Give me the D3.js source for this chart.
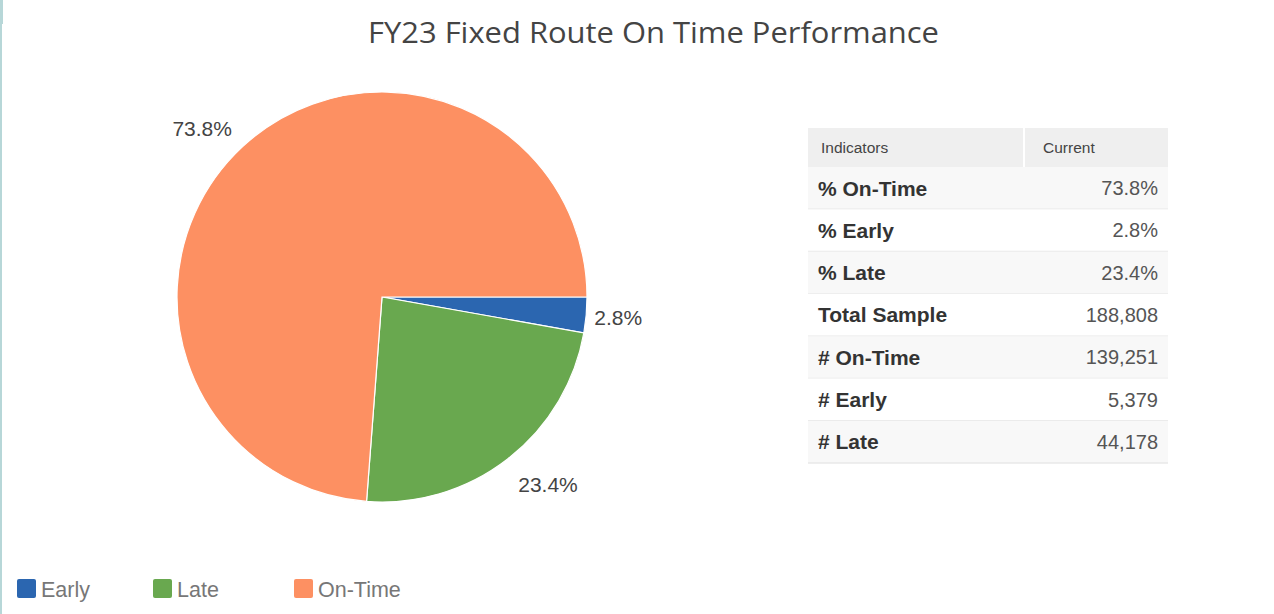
<!DOCTYPE html>
<html><head><meta charset="utf-8">
<script src="https://cdn.jsdelivr.net/npm/d3@7"></script>
<style>html,body{margin:0;padding:0;background:#fff;}svg{display:block;}</style>
</head><body>
<svg id="c" width="1274" height="614"></svg>
<script>
const categories = ["Early", "Late", "On-Time"];
const values = [2.8, 23.4, 73.8];
const colors = ["#2b66b0", "#69a84f", "#fd9062"];
const tableLabels = ["% On-Time", "% Early", "% Late", "Total Sample", "# On-Time", "# Early", "# Late"];
const tableValues = ["73.8%", "2.8%", "23.4%", "188,808", "139,251", "5,379", "44,178"];
const tableHeaders = ["Indicators", "Current"];
const title = "FY23 Fixed Route On Time Performance";

const FONT = "Liberation Sans, Arial, sans-serif";
const svg = d3.select("#c");
svg.append("rect").attr("x",0).attr("y",0).attr("width",2).attr("height",614).attr("fill","#b7d7d8");
svg.append("rect").attr("x",0).attr("y",0).attr("width",3).attr("height",24).attr("fill","#b7d7d8");

svg.append("text").attr("x",368).attr("y",43)
  .attr("textLength",571).attr("lengthAdjust","spacingAndGlyphs")
  .attr("font-family","Open Sans, sans-serif").attr("font-size",29).attr("fill","#444").text(title);

// Pie
const cx = 382, cy = 297, r = 205;
const pie = d3.pie().sort(null).value(d=>d).startAngle(Math.PI/2).endAngle(Math.PI/2 + 2*Math.PI);
const arcs = pie(values);
const arc = d3.arc().innerRadius(0).outerRadius(r);
const g = svg.append("g").attr("transform",`translate(${cx},${cy})`);
g.selectAll("path").data(arcs).join("path").attr("d",arc)
  .attr("fill",(d,i)=>colors[i]).attr("stroke","#fff").attr("stroke-width",1.2);

// Labels
const labelArc = d3.arc().innerRadius(r+32).outerRadius(r+32);
const mid = d => (d.startAngle+d.endAngle)/2;
g.selectAll("text").data(arcs).join("text")
  .attr("transform",d=>{
    const [x,y] = labelArc.centroid(d);
    const s = Math.sin(mid(d)), c = Math.cos(mid(d));
    return `translate(${x - Math.sign(s)*24*s*s},${y + 7*Math.max(0,c)})`;
  })
  .attr("text-anchor",d=>Math.sin(mid(d))>=0?"start":"end")
  .attr("dy","0.35em")
  .attr("font-family",FONT).attr("font-size",21).attr("fill","#444")
  .text(d=>d.data.toFixed(1)+"%");

// Table
const tx0 = 808, tx1 = 1168, tcol = 1024, hy0 = 128, hh = 39, rh = 42.3;
const tg = svg.append("g");
tg.append("rect").attr("x",tx0).attr("y",hy0).attr("width",tx1-tx0).attr("height",hh).attr("fill","#efefef");
tg.append("line").attr("x1",tcol).attr("x2",tcol).attr("y1",hy0).attr("y2",hy0+hh).attr("stroke","#fff").attr("stroke-width",2);
tg.append("text").attr("x",821).attr("y",hy0+hh/2).attr("dy","0.35em").attr("font-family",FONT)
  .attr("font-size",15.5).attr("fill","#444").text(tableHeaders[0]);
tg.append("text").attr("x",1043).attr("y",hy0+hh/2).attr("dy","0.35em").attr("font-family",FONT)
  .attr("font-size",15.5).attr("fill","#444").text(tableHeaders[1]);
const rows = tg.selectAll("g.row").data(tableLabels).join("g").attr("class","row")
  .attr("transform",(d,i)=>`translate(0,${hy0+hh+i*rh})`);
rows.append("rect").attr("x",tx0).attr("width",tx1-tx0).attr("height",rh)
  .attr("fill",(d,i)=>i%2===0?"#f8f8f8":"#fff");
rows.append("line").attr("x1",tx0).attr("x2",tx1).attr("y1",rh).attr("y2",rh).attr("stroke","#e8e8e8").attr("stroke-width",1.5);
rows.append("text").attr("x",818).attr("y",rh/2).attr("dy","0.35em")
  .attr("font-family",FONT).attr("font-size",21).attr("font-weight","bold").attr("fill","#333")
  .text(d=>d);
rows.append("text").attr("x",1158).attr("y",rh/2).attr("dy","0.35em").attr("text-anchor","end")
  .attr("font-family",FONT).attr("font-size",20).attr("fill","#555")
  .text((d,i)=>tableValues[i]);

// Legend
const legX = [17, 153, 294];
const lg = svg.selectAll("g.leg").data(categories).join("g").attr("class","leg")
  .attr("transform",(d,i)=>`translate(${legX[i]},579)`);
lg.append("rect").attr("width",19).attr("height",19).attr("rx",2).attr("fill",(d,i)=>colors[i]);
lg.append("text").attr("x",24).attr("y",10).attr("dy","0.35em")
  .attr("font-family",FONT).attr("font-size",21.5).attr("fill","#777").text(d=>d);
</script>
</body></html>
